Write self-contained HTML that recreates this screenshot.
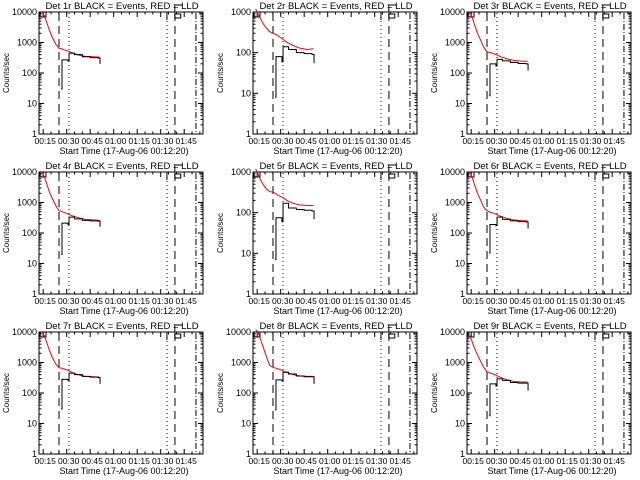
<!DOCTYPE html>
<html><head><meta charset="utf-8"><style>
html,body{margin:0;padding:0;background:#fff;}
svg{display:block;font-family:"Liberation Sans",sans-serif;}
</style></head><body>
<svg id="fig" width="640" height="480" viewBox="0 0 640 480" xmlns="http://www.w3.org/2000/svg"></svg>
<script>
const panelTitles = ["Det 1r BLACK = Events, RED = LLD","Det 2r BLACK = Events, RED = LLD","Det 3r BLACK = Events, RED = LLD","Det 4r BLACK = Events, RED = LLD","Det 5r BLACK = Events, RED = LLD","Det 6r BLACK = Events, RED = LLD","Det 7r BLACK = Events, RED = LLD","Det 8r BLACK = Events, RED = LLD","Det 9r BLACK = Events, RED = LLD"];
const yMaxDecade = [4,3,4,4,3,4,4,4,4];
const xTickMinutes = [15,30,45,60,75,90,105];
const xTickLabels = ["00:15","00:30","00:45","01:00","01:15","01:30","01:45"];
const redTimes = [14,15.5,17,19,21,23,25,27,29,31,34,38,42,47,51];
const redP1 = [10000,8000,5000,2500,1400,900,650,620,560,520,450,380,350,340,330];
const redP2 = [1200,900,700,500,400,330,300,280,250,220,180,150,130,120,125];
const redP3 = [10000,7000,4000,2000,1200,700,500,470,440,400,340,290,260,245,240];
const redP4 = [10000,7500,4500,2200,1300,800,550,500,460,420,360,310,280,270,260];
const redP5 = [1200,900,650,480,380,330,320,290,260,240,200,170,155,150,150];
const redP6 = [10000,7000,4000,2000,1200,700,550,480,450,410,350,300,270,255,250];
const redP7 = [10000,8000,5000,2500,1400,900,680,650,600,550,460,390,350,340,330];
const redP8 = [12000,10000,6000,3000,1500,800,700,650,600,550,470,400,360,350,350];
const redP9 = [8000,5000,3000,1800,1100,700,500,460,420,380,320,270,240,230,230];
const blackTimes = [26.4,27,30.8,31.5,35,40,45,50,51.3];
const blackP1 = [30,270,250,450,400,340,320,310,200];
const blackP2 = [8,80,60,140,120,100,95,90,55];
const blackP3 = [18,200,170,280,250,220,205,200,120];
const blackP4 = [20,210,190,330,290,260,250,245,160];
const blackP5 = [7,75,60,170,130,120,115,110,70];
const blackP6 = [22,190,175,330,280,250,235,230,140];
const blackP7 = [30,280,260,450,400,350,330,320,200];
const blackP8 = [28,270,250,480,420,360,340,340,200];
const blackP9 = [18,200,170,290,260,220,210,210,120];
const markerTimes = [25.1,31.5,94,99.1,112.5];
const markerStyles = ["8,5","1,3","1,3","8,5","6,2,1,2"];

const reds=[redP1,redP2,redP3,redP4,redP5,redP6,redP7,redP8,redP9];
const blacks=[blackP1,blackP2,blackP3,blackP4,blackP5,blackP6,blackP7,blackP8,blackP9];
const NS="http://www.w3.org/2000/svg";
const svg=document.getElementById('fig');
function mk(tag,attrs,parent){const e=document.createElementNS(NS,tag);for(const k in attrs)e.setAttribute(k,attrs[k]);(parent||svg).appendChild(e);return e;}
const T0=12.33,T1=117;
for(let p=0;p<9;p++){
  const col=p%3,row=Math.floor(p/3);
  const L=39+col*214,R=L+164,Tp=12+row*160,B=Tp+122;
  const g=mk('g',{});
  
  
  const dmax=yMaxDecade[p];
  const xs=t=>L+(t-T0)/(T1-T0)*(R-L);
  const ys=v=>B-Math.log10(Math.max(v,1))/dmax*(B-Tp);
  const box=mk('rect',{x:L,y:Tp,width:R-L,height:B-Tp,fill:'none',stroke:'#000','stroke-width':1},g);
  
  
  for(let d=0;d<=dmax;d++){
    const y=ys(Math.pow(10,d));
    mk('line',{x1:L,x2:L+5,y1:y,y2:y,stroke:'#000'},g);
    mk('line',{x1:R,x2:R-5,y1:y,y2:y,stroke:'#000'},g);
    const tl=mk('text',{x:L-2,y:y+3,'font-size':9,'text-anchor':'end'},g);
    tl.textContent=String(Math.pow(10,d));
    
    
    if(d<dmax)for(let m=2;m<10;m++){const ym=ys(m*Math.pow(10,d));
      mk('line',{x1:L,x2:L+2.5,y1:ym,y2:ym,stroke:'#000'},g);
      mk('line',{x1:R,x2:R-2.5,y1:ym,y2:ym,stroke:'#000'},g);}
  }
  xTickMinutes.forEach((t,i)=>{const x=xs(t);
    mk('line',{x1:x,x2:x,y1:B,y2:B-5,stroke:'#000'},g);
    mk('line',{x1:x,x2:x,y1:Tp,y2:Tp+5,stroke:'#000'},g);
    const tl=mk('text',{x:x+2,y:B+10,'font-size':8.5,'text-anchor':'middle'},g);
    tl.textContent=xTickLabels[i];
    
    
  });
  for(let t=20;t<T1;t+=5){if(t%15){const x=xs(t);mk('line',{x1:x,x2:x,y1:B,y2:B-2.5,stroke:'#000'},g);mk('line',{x1:x,x2:x,y1:Tp,y2:Tp+2.5,stroke:'#000'},g);}}
  const xt=mk('text',{x:(L+R)/2+3,y:B+20,'font-size':9,'text-anchor':'middle'},g);
  xt.textContent='Start Time (17-Aug-06 00:12:20)';
  
  
  const yt=mk('text',{x:0,y:0,'font-size':8,'text-anchor':'middle',transform:`translate(${L-30},${(Tp+B)/2}) rotate(-90)`},g);
  yt.textContent='Counts/sec';
  
  
  const ti=mk('text',{x:(L+R)/2+1,y:Tp-3,'font-size':9.5,'text-anchor':'middle'},g);
  ti.textContent=panelTitles[p];
  
  
  markerTimes.forEach((t,i)=>{const x=xs(t);
    const ln=mk('line',{x1:x,x2:x,y1:Tp+1,y2:B,stroke:'#000','stroke-dasharray':markerStyles[i]},g);
    
    });
  mk('rect',{x:L+1,y:Tp,width:6,height:5,fill:'none',stroke:'#000'},g);
  mk('polyline',{points:`${xs(94)},${Tp+8} ${xs(94)},${Tp} ${xs(99)},${Tp} ${xs(99)},${Tp-7} ${xs(104)},${Tp-7}`,fill:'none',stroke:'#000'},g);
  mk('rect',{x:xs(99),y:Tp+2,width:6,height:4,fill:'none',stroke:'#000'},g);
  const rp=redTimes.map((t,i)=>xs(t)+','+ys(reds[p][i])).join(' ');
  const red=mk('polyline',{points:rp,fill:'none',stroke:'#f00','stroke-width':1},g);
  
  
  const bv=blacks[p];let pts=[];
  for(let i=0;i<blackTimes.length;i++){
    pts.push(xs(blackTimes[i])+','+ys(bv[i]));
    if(i+1<blackTimes.length)pts.push(xs(blackTimes[i+1])+','+ys(bv[i]));
  }
  const blk=mk('polyline',{points:pts.join(' '),fill:'none',stroke:'#000','stroke-width':1},g);
  
  
}
</script>
</body></html>
